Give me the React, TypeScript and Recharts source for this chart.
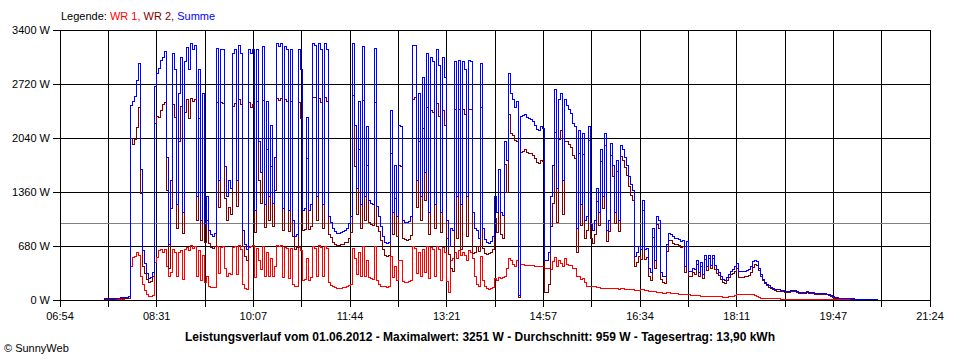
import React from 'react';
import { LineChart, Line, XAxis, YAxis, CartesianGrid, ReferenceLine } from 'recharts';

// time axis: minutes after 06:54, one sample every 2 minutes starting at START_MIN
const START_MIN = 44;
const STEP_MIN = 2;
const X_SPAN = 870; // 06:54 .. 21:24

// Summe (W)
const summe = [
  15, 18, 20, 20, 22, 22, 25, 25, 28, 28,
  30, 30, 40, 2455, 2500, 2560, 2770, 2980, 1640, 620,
  460, 330, 270, 280, 350, 2690, 2850, 2920, 3020, 3060,
  3130, 1800, 700, 1500, 3100, 2900, 1200, 2600, 3060, 1100,
  3000, 3180, 2900, 3230, 3150, 3200, 1300, 2900, 1000, 2600,
  950, 1300, 880, 820, 800, 840, 3170, 1500, 3150, 3150,
  1680, 1300, 1500, 1400, 3100, 3150, 1500, 3210, 3100, 880,
  700, 630, 3150, 3100, 3150, 1130, 3150, 2000, 1600, 3190,
  1200, 2500, 1300, 2200, 1220, 1800, 3230, 3190, 3230, 1150,
  3190, 3150, 1130, 3150, 1000, 800, 820, 3150, 2900, 1130,
  1150, 2300, 1130, 1200, 3230, 3200, 1300, 3230, 3150, 1200,
  3230, 3150, 1050, 970, 900, 860, 840, 840, 850, 860,
  880, 900, 960, 1050, 3230, 2200, 1400, 2500, 1200, 3190,
  1300, 2190, 1250, 1220, 1200, 3170, 1180, 1050, 920, 800,
  730, 713, 730, 2390, 1100, 1700, 1050, 2200, 2180, 1000,
  980, 970, 990, 1050, 3210, 3200, 1500, 2600, 1300, 2800,
  1600, 3100, 1100, 3050, 3000, 1200, 3150, 2950, 1100, 3050,
  2800, 1000, 670, 900, 880, 3000, 1300, 3020, 1200, 3000,
  2900, 1300, 3020, 3000, 1100, 900, 880, 780, 2980, 900,
  760, 720, 713, 740, 800, 1300, 1100, 1640, 1100, 1060,
  2000, 1760, 2850, 2600, 2520, 2430, 2500, 60, 2310, 2320,
  2330, 2300, 2280, 2270, 2250, 2200, 2150, 2140, 2180, 2160,
  500, 500, 600, 1300, 1700, 2645, 1400, 2520, 2600, 1500,
  2520, 2450, 2400, 2350, 2220, 2180, 900, 2140, 1200, 2100,
  1000, 1050, 2180, 950, 880, 1000, 1400, 1100, 1900, 1300,
  2100, 880, 1000, 1970, 1700, 1100, 1760, 1000, 1950, 1900,
  1800, 1700, 1560, 1450, 1385, 550, 600, 670, 640, 1259,
  630, 650, 400, 350, 900, 500, 1050, 1000, 350, 300,
  293, 700, 840, 830, 800, 780, 780, 760, 740, 750,
  420, 740, 356, 356, 400, 380, 500, 350, 470, 320,
  560, 420, 566, 440, 560, 430, 380, 350, 300, 260,
  250, 280, 320, 360, 380, 420, 461, 356, 356, 356,
  360, 370, 380, 420, 480, 503, 480, 400, 320, 260,
  220, 200, 180, 160, 147, 130, 126, 126, 120, 120,
  110, 105, 110, 115, 120, 118, 110, 100, 100, 96,
  100, 105, 100, 95, 90, 84, 84, 84, 80, 80,
  78, 75, 70, 60, 40, 30, 28, 25, 25, 22,
  20, 20, 18, 16, 14, 12, 12, 12, 12, 12,
  12, 12, 12, 12, 12, 12, 12, 12,
];

// WR 1 (W)
const wr1 = [
  8, 8, 10, 10, 10, 10, 12, 12, 12, 12,
  14, 14, 15, 420, 540, 545, 600, 560, 300, 200,
  120, 70, 50, 50, 60, 470, 540, 620, 630, 600,
  640, 420, 300, 350, 640, 600, 300, 600, 620, 260,
  640, 660, 620, 690, 650, 680, 300, 620, 250, 560,
  220, 300, 170, 160, 155, 160, 680, 330, 660, 680,
  400, 300, 330, 320, 660, 680, 320, 690, 640, 200,
  150, 130, 660, 680, 690, 280, 650, 500, 380, 680,
  290, 600, 300, 520, 290, 420, 690, 680, 690, 280,
  660, 650, 270, 650, 200, 170, 165, 660, 620, 250,
  260, 520, 240, 280, 680, 650, 300, 690, 660, 300,
  680, 650, 220, 180, 170, 160, 150, 150, 150, 155,
  160, 170, 180, 200, 650, 520, 320, 600, 300, 680,
  300, 500, 280, 270, 260, 680, 250, 190, 170, 165,
  165, 160, 165, 550, 280, 420, 250, 500, 500, 230,
  220, 220, 230, 240, 680, 650, 330, 600, 300, 640,
  350, 680, 270, 660, 640, 300, 680, 640, 250, 660,
  600, 230, 100, 500, 520, 600, 520, 620, 560, 600,
  560, 500, 620, 600, 520, 300, 200, 170, 550, 250,
  170, 150, 130, 140, 160, 270, 250, 280, 270, 280,
  290, 400, 520, 500, 450, 420, 500, 30, 450, 450,
  440, 440, 430, 430, 430, 420, 420, 420, 420, 420,
  400, 400, 400, 380, 480, 540, 420, 500, 460, 420,
  520, 450, 440, 430, 400, 400, 300, 290, 260, 270,
  220, 170, 170, 170, 170, 170, 160, 160, 150, 150,
  150, 140, 140, 150, 140, 140, 140, 135, 140, 140,
  135, 130, 130, 130, 130, 125, 125, 120, 126, 126,
  120, 115, 110, 105, 110, 105, 100, 95, 90, 85,
  85, 90, 90, 85, 85, 80, 80, 75, 75, 70,
  70, 65, 63, 60, 58, 55, 55, 52, 50, 50,
  48, 45, 45, 45, 42, 42, 40, 40, 38, 36,
  36, 36, 38, 40, 45, 55, 65, 71, 71, 71,
  70, 70, 70, 68, 65, 60, 50, 30, 20, 18,
  17, 17, 17, 16, 15, 14, 13, 13, 12, 12,
  12, 12, 12, 12, 12, 12, 12, 12, 12, 12,
  12, 12, 12, 12, 12, 12, 12, 10, 10, 10,
  10, 10, 10, 10, 8, 8, 8, 8, 8, 6,
  6, 5, 5, 5, 5, 4, 4, 4, 4, 4,
  4, 4, 4, 4, 4, 4, 4, 4,
];

const xTickLabels = ['06:54', '08:31', '10:07', '11:44', '13:21', '14:57', '16:34', '18:11', '19:47', '21:24'];
const yTicks = [0, 680, 1360, 2040, 2720, 3400];
const AVERAGE_W = 959;

const legendItems = [
  { text: 'WR 1,', color: '#ff0000' },
  { text: 'WR 2,', color: '#800000' },
  { text: 'Summe', color: '#0000ff' },
];
const titleText =
  'Leistungsverlauf vom 01.06.2012 - Maximalwert: 3251 W - Durchschnitt: 959 W - Tagesertrag: 13,90 kWh';

const data = summe.map((s, i) => ({
  t: START_MIN + i * STEP_MIN,
  wr1: wr1[i],
  wr2: s - wr1[i],
  summe: s,
}));

const xTicks = Array.from({ length: 19 }, (_, k) => (k * X_SPAN) / 18);

const FONT = '"Liberation Sans", Arial, sans-serif';

export default function App() {
  return (
    <div
      style={{
        position: 'absolute',
        left: 0,
        top: 0,
        width: 960,
        height: 360,
        background: '#fff',
        fontFamily: FONT,
        fontSize: 11,
        color: '#000',
      }}
    >
      <style>{`.recharts-surface path, .recharts-surface line { shape-rendering: crispEdges; }`}</style>
      <LineChart
        width={960}
        height={360}
        data={data}
        margin={{ top: 30, right: 30, left: 5, bottom: 30 }}
      >
        <CartesianGrid stroke="#000" strokeWidth={1} horizontal vertical />
        <XAxis
          type="number"
          dataKey="t"
          domain={[0, X_SPAN]}
          ticks={xTicks}
          interval={0}
          allowDataOverflow
          height={30}
          tickSize={7}
          tickMargin={5}
          axisLine={{ stroke: '#000' }}
          tickLine={{ stroke: '#000' }}
          tick={{ fill: '#000', fontSize: 11, fontFamily: FONT }}
          tickFormatter={(_v: number, i: number) => (i % 2 === 0 ? xTickLabels[i / 2] : '')}
        />
        <YAxis
          type="number"
          domain={[0, 3400]}
          ticks={yTicks}
          interval={0}
          width={55}
          tickSize={7}
          tickMargin={3}
          axisLine={{ stroke: '#000' }}
          tickLine={{ stroke: '#000' }}
          tick={{ fill: '#000', fontSize: 11, fontFamily: FONT }}
          tickFormatter={(v: number) => `${v} W`}
        />
        <ReferenceLine y={AVERAGE_W} stroke="#808080" strokeWidth={1} ifOverflow="visible" />
        <Line type="stepAfter" dataKey="wr1" stroke="#ff0000" strokeWidth={1} dot={false} isAnimationActive={false} />
        <Line type="stepAfter" dataKey="wr2" stroke="#800000" strokeWidth={1} dot={false} isAnimationActive={false} />
        <Line type="stepAfter" dataKey="summe" stroke="#0000ff" strokeWidth={1} dot={false} isAnimationActive={false} />
      </LineChart>
      <div style={{ position: 'absolute', left: 61, top: 10, whiteSpace: 'nowrap', lineHeight: '13px' }}>
        <span>Legende: </span>
        {legendItems.map((it, i) => (
          <span key={i} style={{ color: it.color }}>
            {it.text}
            {i < legendItems.length - 1 ? ' ' : ''}
          </span>
        ))}
      </div>
      <div
        style={{
          position: 'absolute',
          left: 0,
          width: 960,
          top: 330,
          textAlign: 'center',
          fontWeight: 'bold',
          fontSize: 12,
          whiteSpace: 'nowrap',
          lineHeight: '14px',
        }}
      >
        {titleText}
      </div>
      <div style={{ position: 'absolute', left: 4, top: 342, whiteSpace: 'nowrap', lineHeight: '13px' }}>
        © SunnyWeb
      </div>
    </div>
  );
}
